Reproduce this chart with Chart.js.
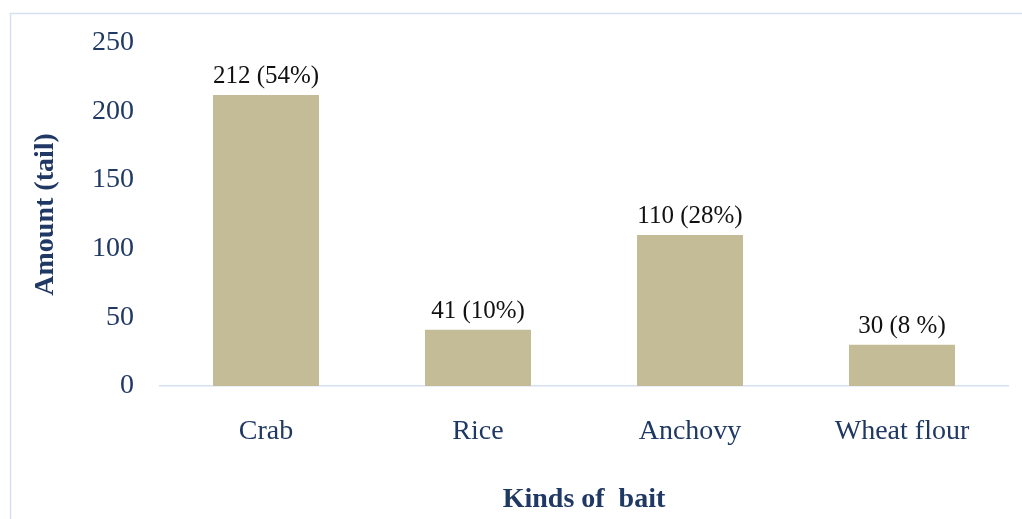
<!DOCTYPE html>
<html>
<head>
<meta charset="utf-8">
<script src="https://cdn.jsdelivr.net/npm/chart.js@4"></script>
<style>
  html, body { margin: 0; padding: 0; background: #ffffff; }
  #wrap { width: 1022px; height: 519px; position: relative; }
</style>
</head>
<body>
<div id="wrap"><canvas id="baitChart" width="1022" height="519"></canvas></div>
<script>
// Daten aus der Grafik
const categories = ['Crab', 'Rice', 'Anchovy', 'Wheat flour'];
const amounts = [212, 41, 110, 30];
const percents = ['54%', '10%', '28%', '8 %'];
const yTicks = [0, 50, 100, 150, 200, 250];

const navy = '#1f3864';
const axisBlue = '#d6e0f1';

// Rahmen um das ganze Diagramm
const frame = {
    id: 'frame',
    beforeDraw(chart) {
        const ctx = chart.ctx;
        ctx.save();
        ctx.fillStyle = '#ffffff';
        ctx.fillRect(0, 0, chart.width, chart.height);
        ctx.strokeStyle = axisBlue;
        ctx.lineWidth = 1.5;
        ctx.strokeRect(10.5, 13.5, 1100, 600);
        ctx.restore();
    }
};

// Beschriftung über den Balken
const barLabels = {
    id: 'barLabels',
    afterDatasetsDraw(chart) {
        const ctx = chart.ctx;
        const meta = chart.getDatasetMeta(0);
        ctx.save();
        ctx.font = '25px "Liberation Serif", "Times New Roman", serif';
        ctx.fillStyle = '#111111';
        ctx.textAlign = 'center';
        ctx.textBaseline = 'bottom';
        meta.data.forEach((bar, i) => {
            ctx.fillText(amounts[i] + ' (' + percents[i] + ')', bar.x, bar.y - 6);
        });
        ctx.restore();
    }
};

new Chart(document.getElementById('baitChart'), {
    type: 'bar',
    data: {
        labels: categories,
        datasets: [{
            data: amounts,
            backgroundColor: '#c4bc96',
            borderWidth: 0,
            categoryPercentage: 1,
            barPercentage: 0.5
        }]
    },
    options: {
        responsive: false,
        animation: false,
        layout: { padding: { top: 42, right: 14, bottom: 0, left: 20 } },
        plugins: {
            legend: { display: false },
            tooltip: { enabled: false }
        },
        scales: {
            x: {
                grid: { display: false, drawTicks: false },
                border: { display: true, color: axisBlue, width: 1.5 },
                ticks: {
                    color: navy,
                    padding: 29,
                    font: { family: '"Liberation Serif", serif', size: 28 }
                },
                title: {
                    display: true,
                    text: 'Kinds of  bait',
                    color: navy,
                    padding: { top: 2, bottom: 2 },
                    font: { family: '"Liberation Serif", serif', size: 28, weight: 'bold' }
                },
                afterFit(scale) { scale.height = 133; }
            },
            y: {
                min: 0,
                max: 250,
                afterBuildTicks(scale) { scale.ticks = yTicks.map(v => ({ value: v })); },
                grid: { display: false, drawTicks: false },
                border: { display: false },
                ticks: {
                    color: navy,
                    padding: 26,
                    font: { family: '"Liberation Serif", serif', size: 28 }
                },
                title: {
                    display: true,
                    text: 'Amount (tail)',
                    color: navy,
                    padding: { top: 9, bottom: 9 },
                    font: { family: '"Liberation Serif", serif', size: 28, weight: 'bold' }
                },
                afterFit(scale) { scale.width = 140; }
            }
        }
    },
    plugins: [frame, barLabels]
});
</script>
</body>
</html>
